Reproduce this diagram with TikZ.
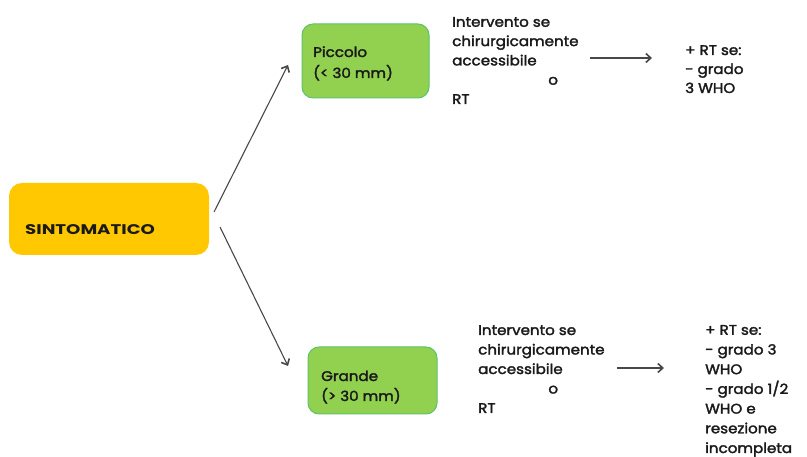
\documentclass[tikz,border=0pt]{standalone}
\usepackage{fontspec}
\setmainfont{Poppins}
\newfontfamily\heavyfont{Poppins}[FakeBold=2]
\usetikzlibrary{arrows.meta}
\definecolor{gold}{HTML}{FFC800}
\definecolor{leaf}{HTML}{92D050}
\definecolor{leafedge}{HTML}{5EC26A}
\definecolor{ink}{HTML}{1A1A1A}
% stacked lines, slightly widened; the box baseline is the last line
\newcommand{\lines}[2]{\fontsize{14}{#1}\selectfont\heavyfont\scalebox{1.08}[1]{\begin{tabular}[b]{@{}l@{}}#2\end{tabular}}}
\begin{document}
\begin{tikzpicture}[x=1pt,y=-1pt,
  txt/.style={inner sep=0pt,anchor=base west,text=ink},
  link/.style={draw=ink!80,line width=1.1pt,-{Straight Barb[length=5pt,width=9pt,line width=1.6pt]}}]
\useasboundingbox (0,0) rectangle (807,457);
% category boxes
\fill[gold,rounded corners=13pt] (9,183) rectangle (209,255);
\draw[leafedge,fill=leaf,line width=1pt,rounded corners=11pt] (302,24) rectangle (429,98);
\draw[leafedge,fill=leaf,line width=1pt,rounded corners=11pt] (308,347) rectangle (437,414);
\node[txt] (sint) at (25,235) {\fontsize{14}{19}\selectfont\bfseries\scalebox{1.3}[1]{SINTOMATICO}};
\node[txt] (picc) at (313,78) {\lines{21}{Piccolo\\(< 30 mm)}};
\node[txt] (grand) at (321,401) {\lines{20}{Grande\\(> 30 mm)}};
% treatment options
\node[txt] (opt1) at (452,104) {\lines{19.3}{Intervento se\\chirurgicamente\\accessibile\\\hspace*{89pt}o\\RT}};
\node[txt] (opt2) at (478,413) {\lines{19.5}{Intervento se\\chirurgicamente\\accessibile\\\hspace*{65pt}o\\RT}};
\node[txt] (rt1) at (685,93) {\lines{19}{+ RT se:\\- grado\\3 WHO}};
\node[txt] (rt2) at (705,453) {\lines{19.7}{+ RT se:\\- grado 3\\WHO\\- grado 1/2\\WHO e\\resezione\\incompleta}};
% connectors
\coordinate (s1) at (214,212);
\coordinate (p1) at (288,65);
\coordinate (s2) at (220,227);
\coordinate (g1) at (288,366);
\coordinate (a1) at (590,58);
\coordinate (b1) at (652,58);
\coordinate (a2) at (617,368);
\coordinate (b2) at (664,368);
\draw[link] (s1) -- (p1);
\draw[link] (s2) -- (g1);
\draw[link] (a1) -- (b1);
\draw[link] (a2) -- (b2);
\end{tikzpicture}
\end{document}
